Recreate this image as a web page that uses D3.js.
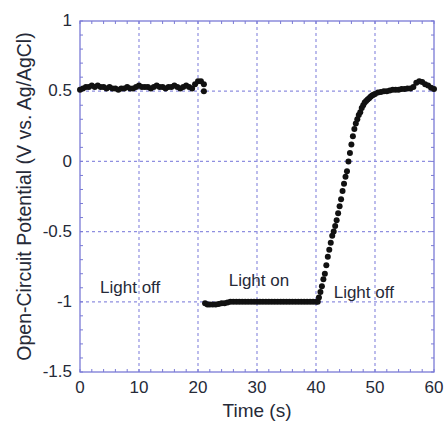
<!DOCTYPE html>
<html>
<head>
<meta charset="utf-8">
<script src="https://cdn.jsdelivr.net/npm/d3@7"></script>
<style>
  html,body{margin:0;padding:0;background:#fff;}
  text{font-family:"Liberation Sans",Arial,sans-serif;fill:#262a38;}
</style>
</head>
<body>
<div id="chart"></div>
<script>
// time (s) and open-circuit potential (V vs Ag/AgCl)
const timeOff1 = [0,0.5,1,1.5,2,2.5,3,3.5,4,4.5,5,5.5,6,6.5,7,7.5,8,8.5,9,9.5,10,10.5,11,11.5,12,12.5,13,13.5,14,14.5,15,15.5,16,16.5,17,17.5,18,18.5,19,19.5,20,20.5,21,21];
const potOff1  = [0.51,0.52,0.53,0.53,0.54,0.53,0.54,0.53,0.53,0.52,0.53,0.52,0.52,0.51,0.52,0.52,0.53,0.52,0.52,0.53,0.54,0.53,0.53,0.53,0.52,0.53,0.54,0.53,0.53,0.52,0.53,0.53,0.54,0.53,0.52,0.53,0.54,0.53,0.52,0.55,0.57,0.57,0.55,0.50];

const timeOn = [21.2,21.6,22,22.5,23,23.5,24,24.5,25,25.5,26,26.5,27,27.5,28,28.5,29,29.5,30,30.5,31,31.5,32,32.5,33,33.5,34,34.5,35,35.5,36,36.5,37,37.5,38,38.5,39,39.5,40,40.3];
const potOn  = [-1.01,-1.02,-1.02,-1.02,-1.02,-1.015,-1.01,-1.01,-1.005,-1.0,-1.0,-1.0,-1.0,-1.0,-1.0,-1.0,-1.0,-1.0,-1.0,-1.0,-1.0,-1.0,-1.0,-1.0,-1.0,-1.0,-1.0,-1.0,-1.0,-1.0,-1.0,-1.0,-1.0,-1.0,-1.0,-1.0,-1.0,-1.0,-1.0,-1.0];

const timeOff2 = [40.5,40.75,41,41.25,41.5,41.75,42,42.25,42.5,42.75,43,43.25,43.5,43.75,44,44.25,44.5,44.75,45,45.25,45.5,45.75,46,46.25,46.5,46.75,47,47.25,47.5,47.75,48,48.25,48.5,48.75,49,49.25,49.5,49.75,50,50.5,51,51.5,52,52.5,53,53.5,54,54.5,55,55.5,56,56.5,57,57.5,58,58.5,59,59.5,60];
const potOff2  = [-0.97,-0.93,-0.89,-0.84,-0.80,-0.74,-0.68,-0.63,-0.58,-0.53,-0.50,-0.46,-0.42,-0.37,-0.32,-0.27,-0.21,-0.16,-0.11,-0.07,0.0,0.06,0.12,0.18,0.23,0.27,0.30,0.33,0.35,0.38,0.40,0.42,0.43,0.44,0.45,0.46,0.47,0.475,0.48,0.49,0.495,0.50,0.50,0.505,0.51,0.51,0.51,0.515,0.515,0.52,0.52,0.53,0.56,0.57,0.565,0.55,0.54,0.525,0.515];

const xTicks = [0,10,20,30,40,50,60];
const yTicks = [-1.5,-1,-0.5,0,0.5,1];
const xLabel = 'Time (s)';
const yLabel = 'Open-Circuit Potential (V vs. Ag/AgCl)';
const notes = [
  {text:'Light off', t:3.4, v:-0.94},
  {text:'Light on', t:25.2, v:-0.885},
  {text:'Light off', t:43.0, v:-0.97}
];

const W=445,H=425;
const m={t:21,r:11,b:53,l:80}, iw=W-m.l-m.r, ih=H-m.t-m.b;
const svg=d3.select('#chart').append('svg').attr('width',W).attr('height',H);
const g=svg.append('g').attr('transform',`translate(${m.l},${m.t})`);
const x=d3.scaleLinear().domain([0,60]).range([0,iw]);
const y=d3.scaleLinear().domain([-1.5,1]).range([ih,0]);
const gridCol='#8f8fe0', frameCol='#7a7ad6';

// dashed grid
g.append('g').selectAll('line').data(xTicks.slice(1,-1)).join('line')
  .attr('x1',d=>x(d)).attr('x2',d=>x(d)).attr('y1',0).attr('y2',ih)
  .attr('stroke',gridCol).attr('stroke-width',1.2).attr('stroke-dasharray','3,3');
g.append('g').selectAll('line').data(yTicks.slice(1,-1)).join('line')
  .attr('y1',d=>y(d)).attr('y2',d=>y(d)).attr('x1',0).attr('x2',iw)
  .attr('stroke',gridCol).attr('stroke-width',1.2).attr('stroke-dasharray','3,3');

// inward minor ticks on all four sides
const xMinor=d3.range(0,61,2), yMinor=d3.range(-15,11).map(d=>d/10);
const ax=g.append('g').attr('stroke',frameCol).attr('stroke-width',1);
ax.selectAll('.tb').data(xMinor).join('line').attr('class','tb')
  .attr('x1',d=>x(d)).attr('x2',d=>x(d)).attr('y1',ih).attr('y2',ih-3);
ax.selectAll('.tt').data(xMinor).join('line').attr('class','tt')
  .attr('x1',d=>x(d)).attr('x2',d=>x(d)).attr('y1',0).attr('y2',3);
ax.selectAll('.tl').data(yMinor).join('line').attr('class','tl')
  .attr('y1',d=>y(d)).attr('y2',d=>y(d)).attr('x1',0).attr('x2',3);
ax.selectAll('.tr').data(yMinor).join('line').attr('class','tr')
  .attr('y1',d=>y(d)).attr('y2',d=>y(d)).attr('x1',iw).attr('x2',iw-3);
g.append('rect').attr('width',iw).attr('height',ih).attr('fill','none')
  .attr('stroke',frameCol).attr('stroke-width',1.3);

// tick labels
g.append('g').selectAll('text').data(xTicks).join('text')
  .attr('x',d=>x(d)).attr('y',ih+21).attr('text-anchor','middle')
  .attr('font-size',17).text(d=>d);
g.append('g').selectAll('text').data(yTicks).join('text')
  .attr('x',-8).attr('y',d=>y(d)).attr('dy','0.3em').attr('text-anchor','end')
  .attr('font-size',17).text(d=>d);

svg.append('text').attr('x',m.l+iw/2).attr('y',H-8).attr('text-anchor','middle')
  .attr('font-size',19).text(xLabel);
svg.append('text').attr('transform',`translate(31,${m.t+ih/2}) rotate(-90)`)
  .attr('text-anchor','middle').attr('font-size',19.5).text(yLabel);

// data points
const pts=[[timeOff1,potOff1],[timeOn,potOn],[timeOff2,potOff2]]
  .flatMap(([ts,vs])=>ts.map((t,i)=>[t,vs[i]]));
g.append('g').selectAll('circle').data(pts).join('circle')
  .attr('cx',d=>x(d[0])).attr('cy',d=>y(d[1])).attr('r',3).attr('fill','#111');

// annotations
g.append('g').selectAll('text').data(notes).join('text')
  .attr('x',d=>x(d.t)).attr('y',d=>y(d.v)).attr('font-size',17).text(d=>d.text);
</script>
</body>
</html>
